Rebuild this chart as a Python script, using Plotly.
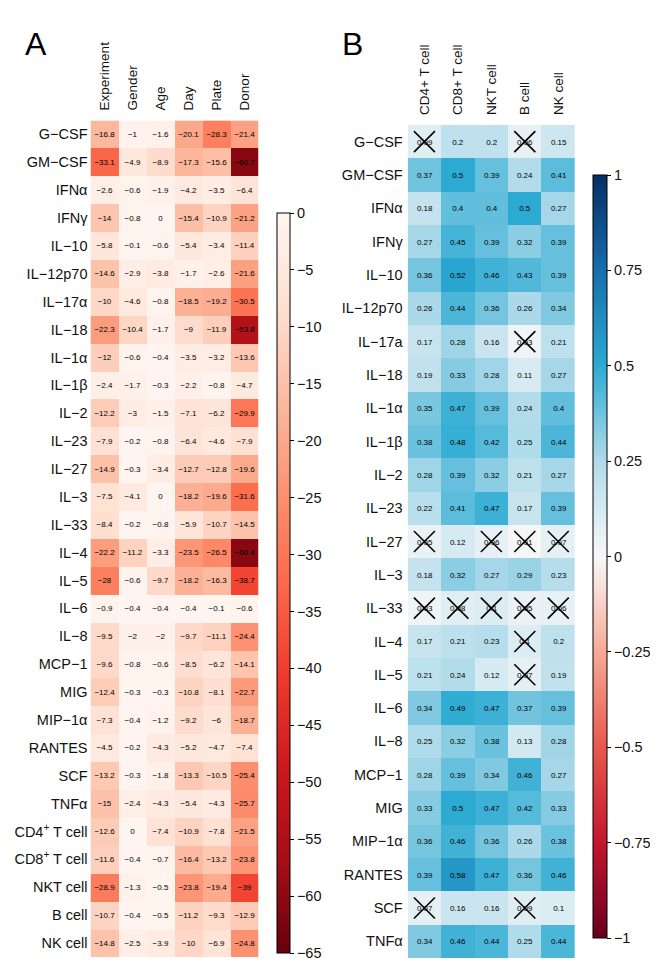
import plotly.graph_objects as go
import plotly.colors as pc

# ---------------- Panel A data ----------------
cols_a = ["Experiment", "Gender", "Age", "Day", "Plate", "Donor"]
rows_a = ["G−CSF", "GM−CSF", "IFNα", "IFNγ", "IL−10", "IL−12p70", "IL−17α", "IL−18",
          "IL−1α", "IL−1β", "IL−2", "IL−23", "IL−27", "IL−3", "IL−33", "IL−4", "IL−5",
          "IL−6", "IL−8", "MCP−1", "MIG", "MIP−1α", "RANTES", "SCF", "TNFα",
          "CD4<sup>+</sup> T cell", "CD8<sup>+</sup> T cell", "NKT cell", "B cell", "NK cell"]
vals_a = [
    [-16.8, -1, -1.6, -20.1, -28.3, -21.4],
    [-33.1, -4.9, -8.9, -17.3, -15.6, -60.7],
    [-2.6, -0.6, -1.9, -4.2, -3.5, -6.4],
    [-14, -0.8, 0, -15.4, -10.9, -21.2],
    [-5.8, -0.1, -0.6, -5.4, -3.4, -11.4],
    [-14.6, -2.9, -3.8, -1.7, -2.6, -21.6],
    [-10, -4.6, -0.8, -18.5, -19.2, -30.5],
    [-22.3, -10.4, -1.7, -9, -11.9, -53.8],
    [-12, -0.6, -0.4, -3.5, -3.2, -13.6],
    [-2.4, -1.7, -0.3, -2.2, -0.8, -4.7],
    [-12.2, -3, -1.5, -7.1, -6.2, -29.9],
    [-7.9, -0.2, -0.8, -6.4, -4.6, -7.9],
    [-14.9, -0.3, -3.4, -12.7, -12.8, -19.6],
    [-7.5, -4.1, 0, -18.2, -19.6, -31.6],
    [-8.4, -0.2, -0.8, -5.9, -10.7, -14.5],
    [-22.2, -11.2, -3.3, -23.5, -26.5, -60.4],
    [-28, -0.6, -9.7, -18.2, -16.3, -38.7],
    [-0.9, -0.4, -0.4, -0.4, -0.1, -0.6],
    [-9.5, -2, -2, -9.7, -11.1, -24.4],
    [-9.6, -0.8, -0.6, -8.5, -6.2, -14.1],
    [-12.4, -0.3, -0.3, -10.8, -8.1, -22.7],
    [-7.3, -0.4, -1.2, -9.2, -6, -18.7],
    [-4.5, -0.2, -4.3, -5.2, -4.7, -7.4],
    [-13.2, -0.3, -1.8, -13.3, -10.5, -25.4],
    [-15, -2.4, -4.3, -5.4, -4.3, -25.7],
    [-12.6, 0, -7.4, -10.9, -7.8, -21.5],
    [-11.6, -0.4, -0.7, -16.4, -13.2, -23.8],
    [-28.9, -1.3, -0.5, -23.8, -19.4, -39],
    [-10.7, -0.4, -0.5, -11.2, -9.3, -12.9],
    [-14.8, -2.5, -3.9, -10, -6.9, -24.8],
]
ticks_a = [0, -5, -10, -15, -20, -25, -30, -35, -40, -45, -50, -55, -60, -65]

# ---------------- Panel B data ----------------
cols_b = ["CD4+ T cell", "CD8+ T cell", "NKT cell", "B cell", "NK cell"]
rows_b = ["G−CSF", "GM−CSF", "IFNα", "IFNγ", "IL−10", "IL−12p70", "IL−17a", "IL−18",
          "IL−1α", "IL−1β", "IL−2", "IL−23", "IL−27", "IL−3", "IL−33", "IL−4", "IL−5",
          "IL−6", "IL−8", "MCP−1", "MIG", "MIP−1α", "RANTES", "SCF", "TNFα"]
vals_b = [
    [0.09, 0.2, 0.2, 0.06, 0.15],
    [0.37, 0.5, 0.39, 0.24, 0.41],
    [0.18, 0.4, 0.4, 0.5, 0.27],
    [0.27, 0.45, 0.39, 0.32, 0.39],
    [0.36, 0.52, 0.46, 0.43, 0.39],
    [0.26, 0.44, 0.36, 0.26, 0.34],
    [0.17, 0.28, 0.16, 0.03, 0.21],
    [0.19, 0.33, 0.28, 0.11, 0.27],
    [0.35, 0.47, 0.39, 0.24, 0.4],
    [0.38, 0.48, 0.42, 0.25, 0.44],
    [0.28, 0.39, 0.32, 0.21, 0.27],
    [0.22, 0.41, 0.47, 0.17, 0.39],
    [0.05, 0.12, 0.06, 0.01, 0.07],
    [0.18, 0.32, 0.27, 0.29, 0.23],
    [0.03, 0.08, 0.1, 0.05, 0.06],
    [0.17, 0.21, 0.23, 0.1, 0.2],
    [0.21, 0.24, 0.12, 0.07, 0.19],
    [0.34, 0.49, 0.47, 0.37, 0.39],
    [0.25, 0.32, 0.38, 0.13, 0.28],
    [0.28, 0.39, 0.34, 0.46, 0.27],
    [0.33, 0.5, 0.47, 0.42, 0.33],
    [0.36, 0.46, 0.36, 0.26, 0.38],
    [0.39, 0.58, 0.47, 0.36, 0.46],
    [0.07, 0.16, 0.16, 0.09, 0.1],
    [0.34, 0.46, 0.44, 0.25, 0.44],
]
# 1 = not significant (crossed out)
crossed_b = [
    [1, 0, 0, 1, 0],
    [0, 0, 0, 0, 0],
    [0, 0, 0, 0, 0],
    [0, 0, 0, 0, 0],
    [0, 0, 0, 0, 0],
    [0, 0, 0, 0, 0],
    [0, 0, 0, 1, 0],
    [0, 0, 0, 0, 0],
    [0, 0, 0, 0, 0],
    [0, 0, 0, 0, 0],
    [0, 0, 0, 0, 0],
    [0, 0, 0, 0, 0],
    [1, 0, 1, 1, 1],
    [0, 0, 0, 0, 0],
    [1, 1, 1, 1, 1],
    [0, 0, 0, 1, 0],
    [0, 0, 0, 1, 0],
    [0, 0, 0, 0, 0],
    [0, 0, 0, 0, 0],
    [0, 0, 0, 0, 0],
    [0, 0, 0, 0, 0],
    [0, 0, 0, 0, 0],
    [0, 0, 0, 0, 0],
    [1, 0, 0, 1, 0],
    [0, 0, 0, 0, 0],
]
ticks_b = [1, 0.75, 0.5, 0.25, 0, -0.25, -0.5, -0.75, -1]

# ---------------- helpers ----------------
OFF = 8                 # page body margin of the html page
W, H = 650, 965         # figure size so that it fits the 658x973 window


def px_x(x):
    return (x - OFF) / W


def px_y(y):
    return 1 - (y - OFF) / H


def fmt(v):
    s = f"{v:g}"
    return s.replace("-", "−")


text_a = [[fmt(v) for v in r] for r in vals_a]
text_b = [[fmt(v) for v in r] for r in vals_b]

reds_r = list(reversed(pc.sequential.Reds))
reds_scale = [[i / (len(reds_r) - 1), c] for i, c in enumerate(reds_r)]

rdbu_scale = [
    [0.0, "rgb(103,0,31)"],
    [0.125, "rgb(196,22,44)"],
    [0.25, "rgb(232,88,78)"],
    [0.375, "rgb(246,170,150)"],
    [0.5, "rgb(248,248,248)"],
    [0.625, "rgb(176,219,234)"],
    [0.75, "rgb(44,170,210)"],
    [0.875, "rgb(22,110,172)"],
    [1.0, "rgb(8,45,100)"],
]

cell_font = dict(family="Liberation Sans Narrow, Liberation Sans, Arial", size=8, color="#000")
lab_font = dict(family="Liberation Sans, Arial", size=14.5, color="#111")
col_font = dict(family="Liberation Sans, Arial", size=13.5, color="#111")
cb_font = dict(family="Liberation Sans, Arial", size=14.5, color="#111")

fig = go.Figure()

fig.add_trace(go.Heatmap(
    z=vals_a, x=cols_a, y=rows_a, text=text_a, texttemplate="%{text}",
    textfont=cell_font, colorscale=reds_scale, zmin=-65, zmax=0,
    xaxis="x", yaxis="y", hoverinfo="skip",
    colorbar=dict(
        x=px_x(277), xanchor="left", y=px_y(583), yanchor="middle",
        len=740, lenmode="pixels", thickness=13, thicknessmode="pixels",
        xpad=0, ypad=0, outlinewidth=1, outlinecolor="#000",
        tickvals=ticks_a, ticks="outside", ticklen=4, tickcolor="#000",
        tickfont=cb_font,
    ),
))

fig.add_trace(go.Heatmap(
    z=vals_b, x=cols_b, y=rows_b, text=text_b, texttemplate="%{text}",
    textfont=cell_font, colorscale=rdbu_scale, zmin=-1, zmax=1,
    xaxis="x2", yaxis="y2", hoverinfo="skip",
    colorbar=dict(
        x=px_x(593), xanchor="left", y=px_y(556.5), yanchor="middle",
        len=763, lenmode="pixels", thickness=14, thicknessmode="pixels",
        xpad=0, ypad=0, outlinewidth=1, outlinecolor="#000",
        tickvals=ticks_b, ticktext=[fmt(t) for t in ticks_b],
        ticks="outside", ticklen=4, tickcolor="#000", tickfont=cb_font,
    ),
))

cx, cy = [], []
for i, r in enumerate(crossed_b):
    for j, c in enumerate(r):
        if c:
            cx.append(cols_b[j])
            cy.append(rows_b[i])
fig.add_trace(go.Scatter(
    x=cx, y=cy, mode="markers", xaxis="x2", yaxis="y2", hoverinfo="skip",
    marker=dict(symbol="x-thin-open", size=21, color="#000",
                line=dict(width=1.6, color="#000")),
    showlegend=False,
))

axis_common = dict(showgrid=False, zeroline=False, showline=False, ticks="",
                   automargin=False)
fig.update_layout(
    width=W, height=H,
    margin=dict(l=0, r=0, t=0, b=0, autoexpand=False),
    paper_bgcolor="white", plot_bgcolor="white",
    showlegend=False,
    xaxis=dict(domain=[px_x(90.5), px_x(258.5)], side="top", tickangle=-90,
               range=[-0.5, len(cols_a) - 0.5], ticklabelstandoff=9,
               tickfont=col_font, anchor="y", **axis_common),
    yaxis=dict(domain=[px_y(957), px_y(120.4)], range=[len(rows_a) - 0.5, -0.5],
               tickfont=lab_font, anchor="x", ticklabelstandoff=2, **axis_common),
    xaxis2=dict(domain=[px_x(407.7), px_x(575)], side="top", tickangle=-90,
                range=[-0.5, len(cols_b) - 0.5], ticklabelstandoff=9,
                tickfont=col_font, anchor="y2", **axis_common),
    yaxis2=dict(domain=[px_y(958), px_y(125)], range=[len(rows_b) - 0.5, -0.5],
                tickfont=lab_font, anchor="x2", ticklabelstandoff=4, **axis_common),
    annotations=[
        dict(text="A", x=px_x(23), y=px_y(64), xref="paper", yref="paper",
             xanchor="left", yanchor="bottom", showarrow=False,
             font=dict(family="Liberation Sans, Arial", size=32, color="#000")),
        dict(text="B", x=px_x(340), y=px_y(64), xref="paper", yref="paper",
             xanchor="left", yanchor="bottom", showarrow=False,
             font=dict(family="Liberation Sans, Arial", size=32, color="#000")),
    ],
)

fig.write_html("out.html")
